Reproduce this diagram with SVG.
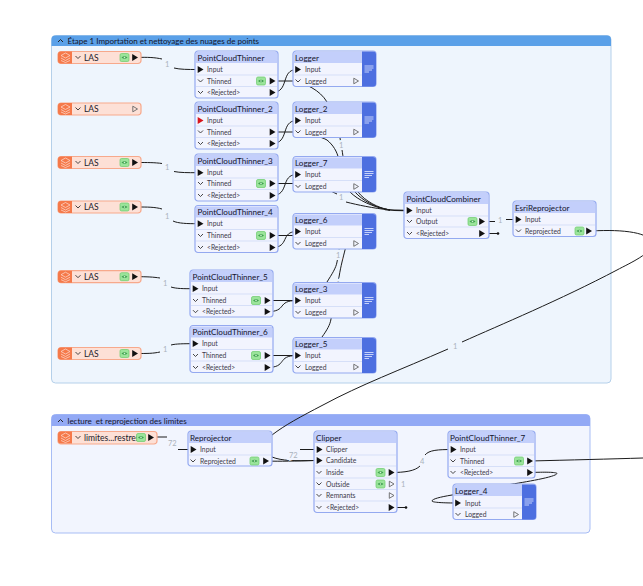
<svg xmlns="http://www.w3.org/2000/svg" width="643" height="586" viewBox="0 0 643 586">
<style>
text{font-family:Lato,"Noto Sans","Liberation Sans",sans-serif;font-size:6.800px;fill:#3d3a4a}
.t{font-size:8.100px;fill:#14142a}
.k{font-size:8px;fill:#14142a}
.b{font-size:8.500px;fill:#1a1a2a}
.r{font-size:6.700px}
.g{font-size:7.500px;fill:#aab2bc;paint-order:stroke;stroke-width:4px}
.g1{stroke:#eef5fd}.g2{stroke:#f2f5fe}
.c{fill:none;stroke:#1c1c1c;stroke-width:1}
.f{fill:#f2f4fe;stroke:#94a9f0;stroke-width:1.200}
.h{fill:#c3cffb}
.s{stroke:#d6dff8;stroke-width:1}
.l{fill:#fde0d6;stroke:#f7a98c;stroke-width:1.200}
</style>
<defs>
<path id="ch" d="M-2.500,-1.500L0,1L2.500,-1.500" fill="none" stroke="#333" stroke-width="0.900"/>
<path id="ar" d="M-2.800,-3.400L3,0L-2.800,3.400Z" fill="#111"/>
<path id="ho" d="M-2.200,-2.800L2.500,0L-2.200,2.800Z" fill="none" stroke="#666" stroke-width="0.900"/>
<g id="ey"><rect x="-4.500" y="-4" width="9" height="8" rx="1.500" fill="#9be49b" stroke="#6ccb6c" stroke-width="0.700"/><path d="M-3,0Q0,-2.500 3,0Q0,2.500 -3,0Z" fill="#3f9f4f"/><circle r="0.800" fill="#d6f5d6"/></g>
<g id="las"><path d="M3,-6H14V6H3A3,3 0 0 1 0,3V-3A3,3 0 0 1 3,-6Z" fill="#f5794a"/><path d="M3,-2L7.500,-4.500L12,-2L7.500,0.500ZM3,0.500L7.500,3L12,0.500M3,3L7.500,5L12,3" fill="none" stroke="#fde0d6" stroke-width="0.700"/></g>
<g id="st"><path d="M69,0.500H80A3,3 0 0 1 83,3.500V32.500A3,3 0 0 1 80,35.500H69Z" fill="#4d6fe0"/><path d="M71.500,15H80.500M71.500,17H80.500M71.500,19H79M71.500,21H76" stroke="#c6d2fa" stroke-width="1" fill="none"/></g>
<g id="logf"><rect class="f" width="83" height="35.500" rx="3"/><path class="h" d="M1,1H69V12H1Z"/><path class="s" d="M1,24H69"/><use href="#st"/></g>
<g id="pctf"><rect class="f" width="83" height="47" rx="3"/><path class="h" d="M1,1H82V12H1Z"/><path class="s" d="M1,24H82M1,35.500H82"/></g>
</defs>

<g id="bookmark-1"><rect x="51.500" y="35.500" width="559.500" height="347.500" rx="4" fill="#eef5fd" stroke="#b5d0ea"/><path d="M51.500,46V39.500a4,4 0 0 1 4,-4H607a4,4 0 0 1 4,4V46Z" fill="#5aa0e8"/><path d="M58,42L60.500,39.500L63,42" fill="none" stroke="#222"/><text x="67.500" y="44" class="k">Étape 1 Importation et nettoyage des nuages de points</text></g>
<g id="bookmark-2"><rect x="51.500" y="414.500" width="538.500" height="118.500" rx="4" fill="#f2f5fe" stroke="#a8bdf5"/><path d="M51.500,426V418.500a4,4 0 0 1 4,-4H586a4,4 0 0 1 4,4V426Z" fill="#92a9f5"/><path d="M58,422L60.500,419.500L63,422" fill="none" stroke="#222"/><text x="67.500" y="423.500" class="k" xml:space="preserve">lecture  et reprojection des limites</text></g>

<g id="connectors">
<path class="c" d="M136,57.500C148,57 155,57.500 162,59M174,68C180,69.500 188,69.500 197,69.500"/>
<path class="c" d="M136,162.500C148,162.500 155,162.500 162,163.500M174,171.500C180,172.700 188,172.700 197,172.700"/>
<path class="c" d="M136,207C148,207 155,207 162,209M173,221C178,223.500 188,223.700 197,223.700"/>
<path class="c" d="M136,276.700C148,276.700 153,277 160,278M171,287C176,288.700 184,288.700 192,288.700"/>
<path class="c" d="M136,353.500C148,353.500 153,353.500 160,352M171,345C176,343.700 184,343.700 192,343.700"/>
<path class="c" d="M272,81H293C305,83 320,90 327,102C335,115 338,128 340,138C342,150 343,155 344,165C346,176 350,187 355,192C362,200 375,208 390,210"/>
<path class="c" d="M272,132H293C310,134 322,137 327,140C333,145 337,151 339,160C341,172 345,185 350,192C358,200 372,207 390,210"/>
<path class="c" d="M272,183.500H293C310,184 325,188 337,194M346,202C358,205 372,208 390,210"/>
<path class="c" d="M272,235.500H300"/>
<path class="c" d="M358,192C365,201 378,208 390,210"/>
<path class="c" d="M265,300.500H293C310,300 322,290 327,282C332,274 336,268 337,262C339,252 340,245 342,235"/>
<path class="c" d="M265,355.500H293C308,355 318,345 322,337C327,330 330,325 331,319C333,305 337,290 339,277C341,265 343,258 345,250L348,238"/>
<path class="c" style="stroke-width:1.700" d="M385,209.500C392,210.300 398,210.500 405,210.500"/>
<path class="c" d="M272,92.500C290,92.500 280,69.500 297,69.500"/>
<path class="c" d="M272,143.500C290,143.500 280,120.500 297,120.500"/>
<path class="c" d="M272,195.500C290,195.500 280,174.500 297,174.500"/>
<path class="c" d="M272,247.500C290,247.500 280,231.500 297,231.500"/>
<path class="c" d="M267,311.700C288,311.700 276,300.500 297,300.500"/>
<path class="c" d="M267,367.500C288,367.500 276,355.500 297,355.500"/>
<path class="c" d="M485,221.500H495M506,219.500H516"/>
<path class="c" d="M485,233.500H498"/><circle cx="498" cy="233.500" r="1.300" fill="#111"/>
<path class="c" d="M591,231C625,229 650,233 652,243C653,253 630,263 617,270C560,300 500,325 462,342M448,349C400,370 360,385 323,405C300,417 285,425 272,435C262,445 262,452 272,457C282,461 295,461 314,460.500"/>
<path class="c" d="M150,437H167M178,449.500H192"/>
<path class="c" d="M267,461C280,461.500 295,461 316,460.500"/>
<path class="c" d="M300,449.500H317"/>
<path class="c" d="M391,472.500C405,472.500 415,471 420,466M425,455C429,450 438,449.500 453,449.500"/>
<path class="c" d="M391,507.500H406"/><circle cx="406" cy="507.500" r="1.300" fill="#111"/>
<path class="c" d="M530,461C570,460 610,459 643,458"/>
<path class="c" d="M530,472.500C545,472 556,472 557,473.500C556,477 525,482 507,485C485,490 465,494 452,495C440,497 432,499 432,501C432,502.500 445,503 457,503"/>
</g>

<g id="link-labels">
<text class="g g1" x="165" y="67">1</text><text class="g g1" x="165" y="170">1</text><text class="g g1" x="165" y="219">1</text><text class="g g1" x="163" y="286">1</text><text class="g g1" x="163" y="352">1</text>
<text class="g g1" x="339" y="148">1</text><text class="g g1" x="339" y="200">1</text><text class="g g1" x="336" y="258">1</text><text class="g g1" x="336" y="287">1</text>
<text class="g g1" x="498" y="223">1</text>
<text class="g g1" x="453" y="349">1</text>
<text class="g g2" x="168" y="446">72</text><text class="g g2" x="289" y="458">72</text><text class="g g2" x="420" y="464">4</text><text class="g g2" x="401" y="487">1</text>
</g>

<g id="las-1" transform="translate(58,57.500)"><rect class="l" y="-6" width="83" height="12" rx="3"/><use href="#las"/><use href="#ch" x="20"/><text class="b" x="26" y="3">LAS</text><use href="#ey" x="66.500"/><use href="#ar" x="77"/></g>
<g id="las-2" transform="translate(58,109)"><rect class="l" y="-6" width="83" height="12" rx="3"/><use href="#las"/><use href="#ch" x="20"/><text class="b" x="26" y="3">LAS</text><use href="#ho" x="77"/></g>
<g id="las-3" transform="translate(58,162.500)"><rect class="l" y="-6" width="83" height="12" rx="3"/><use href="#las"/><use href="#ch" x="20"/><text class="b" x="26" y="3">LAS</text><use href="#ey" x="66.500"/><use href="#ar" x="77"/></g>
<g id="las-4" transform="translate(58,207)"><rect class="l" y="-6" width="83" height="12" rx="3"/><use href="#las"/><use href="#ch" x="20"/><text class="b" x="26" y="3">LAS</text><use href="#ey" x="66.500"/><use href="#ar" x="77"/></g>
<g id="las-5" transform="translate(58,276.700)"><rect class="l" y="-6" width="83" height="12" rx="3"/><use href="#las"/><use href="#ch" x="20"/><text class="b" x="26" y="3">LAS</text><use href="#ey" x="66.500"/><use href="#ar" x="77"/></g>
<g id="las-6" transform="translate(58,353.500)"><rect class="l" y="-6" width="83" height="12" rx="3"/><use href="#las"/><use href="#ch" x="20"/><text class="b" x="26" y="3">LAS</text><use href="#ey" x="66.500"/><use href="#ar" x="77"/></g>

<g id="pct-1" transform="translate(195,51)"><use href="#pctf"/><text class="t" x="2.500" y="9.500">PointCloudThinner</text><use href="#ar" x="5.500" y="18.500"/><text x="12" y="21">Input</text><use href="#ch" x="5.500" y="30"/><text x="12" y="32.500">Thinned</text><use href="#ey" x="66" y="30"/><use href="#ar" x="77.500" y="30"/><use href="#ch" x="5.500" y="41.500"/><text x="12" y="44" class="r">&lt;Rejected&gt;</text><use href="#ar" x="77.500" y="41.500"/></g>
<g id="pct-2" transform="translate(195,102)"><use href="#pctf"/><text class="t" x="2.500" y="9.500">PointCloudThinner_2</text><path d="M2.700,15.100L8.500,18.500L2.700,21.900Z" fill="#d8141c"/><text x="12" y="21">Input</text><use href="#ch" x="5.500" y="30"/><text x="12" y="32.500">Thinned</text><use href="#ar" x="77.500" y="30"/><use href="#ch" x="5.500" y="41.500"/><text x="12" y="44" class="r">&lt;Rejected&gt;</text><use href="#ar" x="77.500" y="41.500"/></g>
<g id="pct-3" transform="translate(195,154)"><use href="#pctf"/><text class="t" x="2.500" y="9.500">PointCloudThinner_3</text><use href="#ar" x="5.500" y="18.700"/><text x="12" y="21.200">Input</text><use href="#ch" x="5.500" y="29.500"/><text x="12" y="32">Thinned</text><use href="#ey" x="66" y="29.500"/><use href="#ar" x="77.500" y="29.500"/><use href="#ch" x="5.500" y="41.500"/><text x="12" y="44" class="r">&lt;Rejected&gt;</text><use href="#ar" x="77.500" y="41.500"/></g>
<g id="pct-4" transform="translate(195,205.500)"><use href="#pctf"/><text class="t" x="2.500" y="9.500">PointCloudThinner_4</text><use href="#ar" x="5.500" y="18.200"/><text x="12" y="20.700">Input</text><use href="#ch" x="5.500" y="30"/><text x="12" y="32.500">Thinned</text><use href="#ey" x="66" y="30"/><use href="#ar" x="77.500" y="30"/><use href="#ch" x="5.500" y="42"/><text x="12" y="44.500" class="r">&lt;Rejected&gt;</text><use href="#ar" x="77.500" y="42"/></g>
<g id="pct-5" transform="translate(190,270)"><use href="#pctf"/><text class="t" x="2.500" y="9.500">PointCloudThinner_5</text><use href="#ar" x="5.500" y="18.700"/><text x="12" y="21.200">Input</text><use href="#ch" x="5.500" y="30.500"/><text x="12" y="33">Thinned</text><use href="#ey" x="66" y="30.500"/><use href="#ar" x="77.500" y="30.500"/><use href="#ch" x="5.500" y="41.700"/><text x="12" y="44.200" class="r">&lt;Rejected&gt;</text><use href="#ar" x="77.500" y="41.700"/></g>
<g id="pct-6" transform="translate(190,325.500)"><use href="#pctf"/><text class="t" x="2.500" y="9.500">PointCloudThinner_6</text><use href="#ar" x="5.500" y="18.200"/><text x="12" y="20.700">Input</text><use href="#ch" x="5.500" y="30"/><text x="12" y="32.500">Thinned</text><use href="#ey" x="66" y="30"/><use href="#ar" x="77.500" y="30"/><use href="#ch" x="5.500" y="42"/><text x="12" y="44.500" class="r">&lt;Rejected&gt;</text><use href="#ar" x="77.500" y="42"/></g>

<g id="logger-1" transform="translate(293,51)"><use href="#logf"/><text class="t" x="2" y="9.500">Logger</text><use href="#ar" x="5" y="18.500"/><text x="12" y="21">Input</text><use href="#ch" x="5" y="30"/><text x="12" y="32.500">Logged</text><use href="#ho" x="63" y="30"/></g>
<g id="logger-2" transform="translate(293,102)"><use href="#logf"/><text class="t" x="2" y="9.500">Logger_2</text><use href="#ar" x="5" y="18.500"/><text x="12" y="21">Input</text><use href="#ch" x="5" y="30"/><text x="12" y="32.500">Logged</text><use href="#ho" x="63" y="30"/></g>
<g id="logger-7" transform="translate(293,156.500)"><use href="#logf"/><text class="t" x="2" y="9.500">Logger_7</text><use href="#ar" x="5" y="18"/><text x="12" y="20.500">Input</text><use href="#ch" x="5" y="30"/><text x="12" y="32.500">Logged</text><use href="#ho" x="63" y="30"/></g>
<g id="logger-6" transform="translate(293,213.500)"><use href="#logf"/><text class="t" x="2" y="9.500">Logger_6</text><use href="#ar" x="5" y="18"/><text x="12" y="20.500">Input</text><use href="#ch" x="5" y="30"/><text x="12" y="32.500">Logged</text><use href="#ho" x="63" y="30"/></g>
<g id="logger-3" transform="translate(293,282.500)"><use href="#logf"/><text class="t" x="2" y="9.500">Logger_3</text><use href="#ar" x="5" y="18"/><text x="12" y="20.500">Input</text><use href="#ch" x="5" y="30"/><text x="12" y="32.500">Logged</text><use href="#ho" x="63" y="30"/></g>
<g id="logger-5" transform="translate(293,337.500)"><use href="#logf"/><text class="t" x="2" y="9.500">Logger_5</text><use href="#ar" x="5" y="18"/><text x="12" y="20.500">Input</text><use href="#ch" x="5" y="29.500"/><text x="12" y="32">Logged</text><use href="#ho" x="63" y="29.500"/></g>

<g id="combiner" transform="translate(404,192)"><rect class="f" width="85" height="46.500" rx="3"/><path class="h" d="M1,1H84V12H1Z"/><path class="s" d="M1,24H84M1,35H84"/><text class="t" x="2.500" y="9.500">PointCloudCombiner</text><use href="#ar" x="5.500" y="18.500"/><text x="12" y="21">Input</text><use href="#ch" x="5.500" y="29.500"/><text x="12" y="32">Output</text><use href="#ey" x="68.500" y="29.500"/><use href="#ar" x="78" y="29.500"/><use href="#ch" x="5.500" y="41.500"/><text x="12" y="44" class="r">&lt;Rejected&gt;</text><use href="#ar" x="78" y="41.500"/></g>
<g id="esri" transform="translate(513,201)"><rect class="f" width="83" height="35.500" rx="3"/><path class="h" d="M1,1H82V12H1Z"/><path class="s" d="M1,24H82"/><text class="t" x="2" y="9.500">EsriReprojector</text><use href="#ar" x="5.500" y="18.500"/><text x="12" y="21">Input</text><use href="#ch" x="5.500" y="30"/><text x="12" y="32.500">Reprojected</text><use href="#ey" x="66.500" y="30"/><use href="#ar" x="76" y="30"/></g>

<g id="limites" transform="translate(58,437.500)"><rect class="l" y="-6" width="99" height="12.500" rx="3"/><use href="#las"/><use href="#ch" x="20"/><text class="b" x="26" y="3">limites...restres</text><use href="#ey" x="83"/><use href="#ar" x="93"/></g>
<g id="reprojector" transform="translate(188,431)"><rect class="f" width="84" height="35" rx="3"/><path class="h" d="M1,1H83V12H1Z"/><path class="s" d="M1,24H83"/><text class="t" x="2" y="9.500">Reprojector</text><use href="#ar" x="5.500" y="18.500"/><text x="12" y="21">Input</text><use href="#ch" x="5" y="30"/><text x="12" y="32.500">Reprojected</text><use href="#ey" x="66.500" y="30"/><use href="#ar" x="78" y="30"/></g>
<g id="clipper" transform="translate(314,431)"><rect class="f" width="83" height="81.500" rx="3"/><path class="h" d="M1,1H82V12H1Z"/><path class="s" d="M1,24H82M1,35H82M1,47H82M1,58.500H82M1,70H82"/><text class="t" x="2" y="9.500">Clipper</text><use href="#ar" x="5.500" y="18.500"/><text x="12" y="21">Clipper</text><use href="#ar" x="5.500" y="29.500"/><text x="12" y="32">Candidate</text><use href="#ch" x="5" y="41.500"/><text x="12" y="44">Inside</text><use href="#ey" x="66.500" y="41.500"/><use href="#ar" x="77.500" y="41.500"/><use href="#ch" x="5" y="53"/><text x="12" y="55.500">Outside</text><use href="#ey" x="66.500" y="53"/><use href="#ho" x="77.500" y="53"/><use href="#ch" x="5" y="64.500"/><text x="12" y="67">Remnants</text><use href="#ho" x="77.500" y="64.500"/><use href="#ch" x="5" y="76.500"/><text x="12" y="79" class="r">&lt;Rejected&gt;</text><use href="#ar" x="77.500" y="76.500"/></g>
<g id="pct-7" transform="translate(448,431)"><rect class="f" width="87" height="47" rx="3"/><path class="h" d="M1,1H86V12H1Z"/><path class="s" d="M1,24H86M1,35.500H86"/><text class="t" x="2" y="9.500">PointCloudThinner_7</text><use href="#ar" x="5.500" y="18.500"/><text x="12" y="21">Input</text><use href="#ch" x="5" y="30"/><text x="12" y="32.500">Thinned</text><use href="#ey" x="71" y="30"/><use href="#ar" x="82" y="30"/><use href="#ch" x="5" y="41.500"/><text x="12" y="44" class="r">&lt;Rejected&gt;</text><use href="#ar" x="82" y="41.500"/></g>
<g id="logger-4" transform="translate(453,484)"><use href="#logf"/><text class="t" x="2" y="9.500">Logger_4</text><use href="#ar" x="5" y="19"/><text x="12" y="21.500">Input</text><use href="#ch" x="5" y="30.500"/><text x="12" y="33">Logged</text><use href="#ho" x="63" y="30.500"/></g>
</svg>
